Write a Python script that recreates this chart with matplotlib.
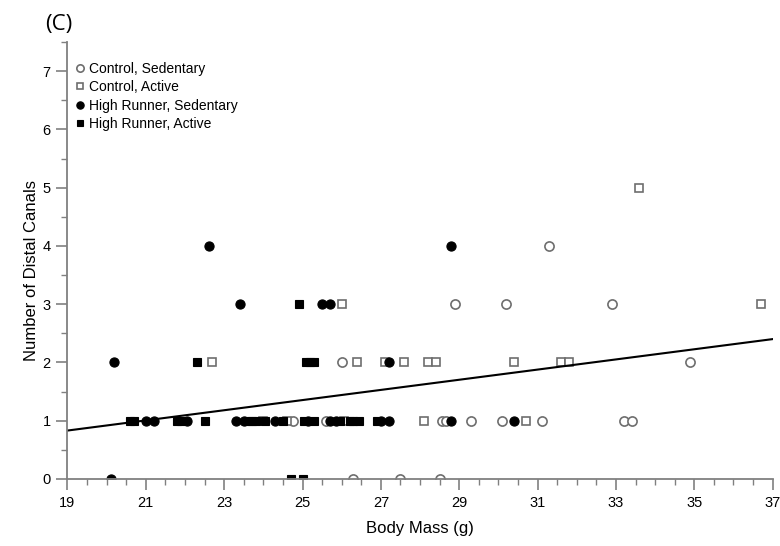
import matplotlib
matplotlib.use('Agg')
import matplotlib.pyplot as plt
from matplotlib.ticker import MultipleLocator

plt.rcParams['font.family'] = ['Liberation Sans', 'DejaVu Sans']

# Control, Sedentary
cs_x = [31.3, 28.9, 30.2, 32.9, 26.0, 34.9,
        24.75, 25.6, 28.55, 28.65, 29.3, 30.1, 31.1, 33.2, 33.4,
        26.3, 27.5, 28.5]
cs_y = [4, 3, 3, 3, 2, 2,
        1, 1, 1, 1, 1, 1, 1, 1, 1,
        0, 0, 0]

# Control, Active
ca_x = [33.6, 26.0, 36.7,
        22.7, 26.4, 27.1, 27.6, 28.2, 28.4, 30.4, 31.6, 31.8,
        24.0, 24.6, 26.05, 28.1, 30.7]
ca_y = [5, 3, 3,
        2, 2, 2, 2, 2, 2, 2, 2, 2,
        1, 1, 1, 1, 1]

# High Runner, Sedentary
hs_x = [22.6, 28.8, 23.4, 25.5, 25.7, 20.2, 27.2,
        21.0, 21.2, 22.05, 23.3, 23.5, 24.3, 25.15, 25.7, 25.85, 27.0, 27.2, 28.8, 30.4,
        20.1]
hs_y = [4, 4, 3, 3, 3, 2, 2,
        1, 1, 1, 1, 1, 1, 1, 1, 1, 1, 1, 1, 1,
        0]

# High Runner, Active
ha_x = [24.9, 22.3, 25.1, 25.2, 25.3,
        20.6, 20.7, 21.8, 21.9, 22.5, 23.6, 23.7, 23.8, 24.05, 24.5,
        25.05, 25.3, 25.95, 26.2, 26.3, 26.45, 26.9,
        24.7, 25.0]
ha_y = [3, 2, 2, 2, 2,
        1, 1, 1, 1, 1, 1, 1, 1, 1, 1,
        1, 1, 1, 1, 1, 1, 1,
        0, 0]

# fitted line (end points)
fit_x = [19, 37]
fit_y = [0.83, 2.40]

x_ticks = [19, 21, 23, 25, 27, 29, 31, 33, 35, 37]

fig = plt.figure(figsize=(7.8, 5.46), dpi=100)
ax = fig.add_axes([0.0865, 0.1229, 0.9041, 0.8001])

grey = '#6e6e6e'
ax.plot(cs_x, cs_y, 'o', ms=6.6, mfc='white', mec=grey, mew=1.2, label='Control, Sedentary')
ax.plot(ca_x, ca_y, 's', ms=5.8, mfc='white', mec=grey, mew=1.2, label='Control, Active')
ax.plot(hs_x, hs_y, 'o', ms=6.6, mfc='black', mec='black', mew=0.8, label='High Runner, Sedentary')
ax.plot(ha_x, ha_y, 's', ms=5.8, mfc='black', mec='black', mew=0.8, label='High Runner, Active')
ax.plot(fit_x, fit_y, color='black', lw=1.5)

ax.set_xlim(19, 37)
ax.set_ylim(0, 7.5)
ax.set_xticks(x_ticks)
ax.xaxis.set_minor_locator(MultipleLocator(0.5))
ax.yaxis.set_major_locator(MultipleLocator(1))
ax.yaxis.set_minor_locator(MultipleLocator(0.5))

for s in ['top', 'right']:
    ax.spines[s].set_visible(False)
for s in ['left', 'bottom']:
    ax.spines[s].set_color('#808080')
    ax.spines[s].set_linewidth(1.3)

ax.tick_params(which='major', length=8, width=1.2, color='#808080', labelsize=10.5, pad=4)
ax.tick_params(which='minor', length=4, width=1.0, color='#808080')

ax.set_xlabel('Body Mass (g)', fontsize=12, labelpad=8)
ax.set_ylabel('Number of Distal Canals', fontsize=12)
ax.yaxis.set_label_coords(-0.04, 0.478)

leg = ax.legend(loc='upper left', bbox_to_anchor=(0.012, 0.955), frameon=False,
                fontsize=10, markerscale=0.8, handlelength=0.6, handletextpad=0.35,
                labelspacing=0.32, borderpad=0, borderaxespad=0)

fig.text(0.058, 0.975, '(C)', fontsize=16, va='top', ha='left', family=['Open Sans', 'DejaVu Sans'])

fig.savefig('out.png', dpi=100)
